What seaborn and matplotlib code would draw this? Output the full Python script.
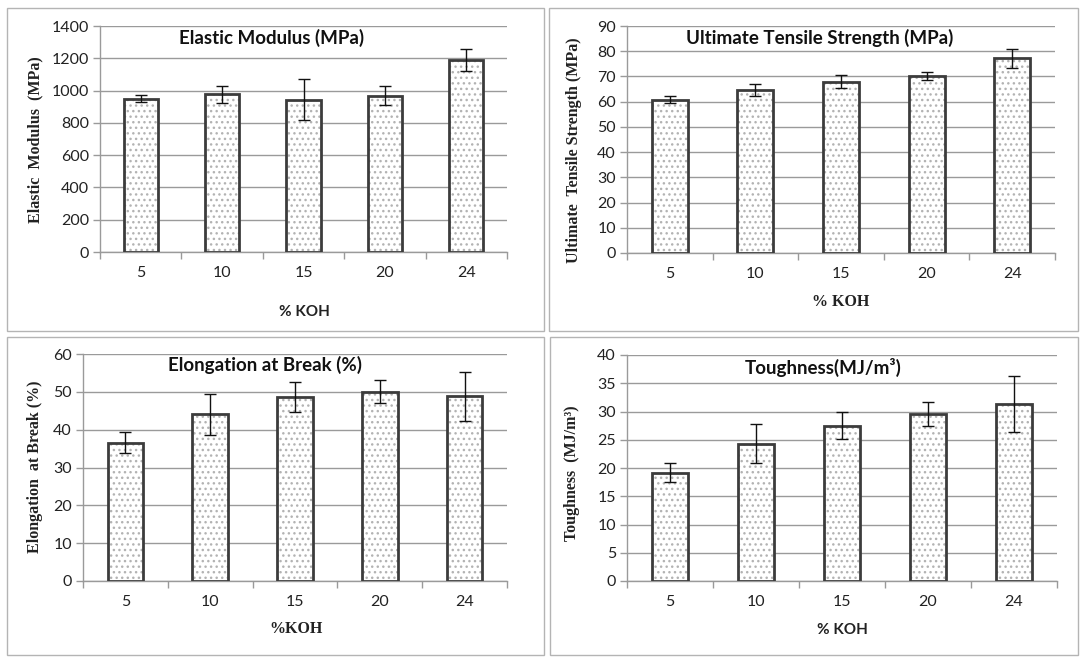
"""
Mechanical properties vs KOH concentration, 2x2 bar panels
"""

import numpy as np
import pandas as pd
import matplotlib
matplotlib.use('Agg')
import matplotlib.pyplot as plt
import seaborn as sns
from matplotlib.patches import Rectangle

# data
koh = ['5', '10', '15', '20', '24']

modulus = [950, 977, 943, 968, 1187]
modulus_err = [21, 52, 126, 60, 68]
uts = [60.8, 64.7, 67.9, 70.1, 77.2]
uts_err = [1.3, 2.3, 2.5, 1.6, 3.8]
elongation = [36.6, 44.1, 48.6, 50.0, 48.8]
elongation_err = [2.7, 5.4, 3.9, 3.0, 6.5]
toughness = [19.2, 24.3, 27.5, 29.6, 31.3]
toughness_err = [1.7, 3.5, 2.4, 2.1, 5.0]

sns.set_theme(style='white')
plt.rcParams['font.family'] = ['Lato', 'DejaVu Sans']
plt.rcParams['hatch.linewidth'] = 1.0

W, H = 1081, 657
GRID = '#9a9a9a'
SERIF = ['Liberation Serif', 'DejaVu Serif']
SANS = ['Lato', 'DejaVu Sans']

panels = [
    dict(vals=modulus, err=modulus_err, rect=(100, 26, 507, 252), ymax=1400, step=200,
         title='Elastic Modulus (MPa)', tpos=(272, 38),
         ylabel='Elastic  Modulus  (MPa)', ypos=(35, 140),
         xlabel='% KOH', xfam=SANS, xpos=(304, 312)),
    dict(vals=uts, err=uts_err, rect=(627, 26, 1055, 253), ymax=90, step=10,
         title='Ultimate Tensile Strength (MPa)', tpos=(820, 38),
         ylabel='Ultimate  Tensile Strength (MPa)', ypos=(574, 150),
         xlabel='% KOH', xfam=SERIF, xpos=(841, 302)),
    dict(vals=elongation, err=elongation_err, rect=(83, 354, 507, 581), ymax=60, step=10,
         title='Elongation at Break (%)', tpos=(265, 365),
         ylabel='Elongation  at Break (%)', ypos=(35, 467),
         xlabel='%KOH', xfam=SERIF, xpos=(296, 629)),
    dict(vals=toughness, err=toughness_err, rect=(627, 355, 1057, 581), ymax=40, step=5,
         title='Toughness(MJ/m³)', tpos=(823, 367),
         ylabel='Toughness  (MJ/m³)', ypos=(572, 473),
         xlabel='% KOH', xfam=SANS, xpos=(842, 630)),
]

fig = plt.figure(figsize=(W / 100, H / 100), dpi=100)

# light grey frames around each panel
for x0, y0, x1, y1 in [(7, 8, 544, 331), (549, 8, 1078, 331),
                       (7, 337, 544, 655), (550, 337, 1078, 655)]:
    fig.add_artist(Rectangle((x0 / W, 1 - y1 / H), (x1 - x0) / W, (y1 - y0) / H,
                             transform=fig.transFigure, fill=False,
                             edgecolor='#b4b4b4', lw=1.0))

for p in panels:
    l, t, r, b = p['rect']
    ax = fig.add_axes([l / W, 1 - b / H, (r - l) / W, (b - t) / H])
    df = pd.DataFrame({'koh': koh, 'val': p['vals']})

    # dotted fill layer
    sns.barplot(data=df, x='koh', y='val', ax=ax, color='white', saturation=1,
                width=0.42, errorbar=None, edgecolor='#b3b3b3', linewidth=0,
                hatch='...', zorder=3)
    # dark outline + error bars on top
    pos = np.arange(len(koh))
    ax.bar(pos, p['vals'], width=0.42, fill=False, edgecolor='#3c3c3c',
           linewidth=2.0, zorder=4)
    ax.errorbar(pos, p['vals'], yerr=p['err'], fmt='none', ecolor='#111111',
                elinewidth=1.0, capsize=4, capthick=1.0, zorder=5)

    ax.set_xlim(-0.5, len(koh) - 0.5)
    ax.set_ylim(0, p['ymax'])
    ax.set_yticks(np.arange(0, p['ymax'] + 1, p['step']))
    ax.set_xticks(pos)
    ax.set_xticks(np.arange(-0.5, len(koh), 1.0), minor=True)
    ax.set_xlabel('')
    ax.set_ylabel('')

    ax.grid(axis='y', color=GRID, lw=1.0, zorder=0)
    ax.set_axisbelow(True)
    for s in ['top', 'right']:
        ax.spines[s].set_visible(False)
    for s in ['left', 'bottom']:
        ax.spines[s].set_color(GRID)
        ax.spines[s].set_linewidth(1.0)

    ax.tick_params(axis='y', left=True, length=5, width=1, color=GRID,
                   labelsize=11.5, labelcolor='#222222', pad=3)
    ax.tick_params(axis='x', which='major', bottom=False, length=0,
                   labelsize=11.5, labelcolor='#222222', pad=10)
    ax.tick_params(axis='x', which='minor', bottom=True, length=5, width=1,
                   color=GRID)

    tx, ty = p['tpos']
    fig.text(tx / W, 1 - ty / H, p['title'], ha='center', va='center',
             fontsize=13.5, fontweight='bold', family=SANS, color='#111111')
    yx, yy = p['ypos']
    fig.text(yx / W, 1 - yy / H, p['ylabel'], ha='center', va='center',
             rotation=90, fontsize=11.5, fontweight='bold', family=SERIF,
             color='#222222')
    xx, xy = p['xpos']
    fig.text(xx / W, 1 - xy / H, p['xlabel'], ha='center', va='center',
             fontsize=11.5 if p['xfam'] is SERIF else 11, fontweight='bold',
             family=p['xfam'], color='#222222')

fig.savefig('out.png', dpi=100, facecolor='white')
